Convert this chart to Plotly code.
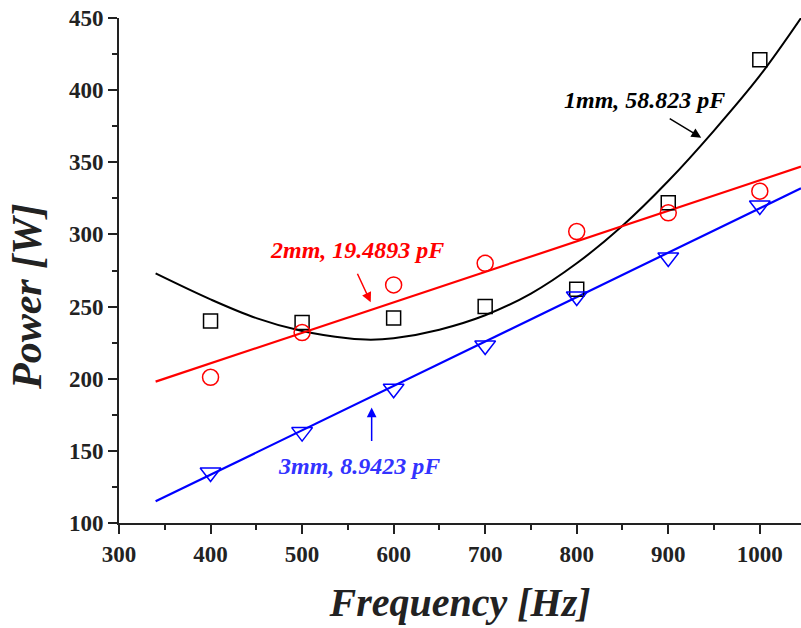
import plotly.graph_objects as go

freq = [400, 500, 600, 700, 800, 900, 1000]
p_1mm = [240, 239, 242, 250, 262, 322, 421]
p_2mm = [201, 232, 265, 280, 302, 315, 330]
p_3mm = [135, 163, 193, 223, 257, 284, 320]

fit1_x = [340, 400, 450, 500, 550, 575, 600, 650, 700, 750, 800, 850, 900, 950, 1000, 1045]
fit1_y = [273, 255, 242, 233, 228, 227, 228, 234, 244, 259, 280, 306, 337, 372, 410, 450]
fit2_x = [340, 1045]
fit2_y = [198, 347]
fit3_x = [340, 1045]
fit3_y = [115, 332]

FONT = "Liberation Serif"

fig = go.Figure()
fig.add_trace(go.Scatter(x=fit1_x, y=fit1_y, mode="lines", line=dict(color="black", width=2, shape="spline", smoothing=1.0), showlegend=False))
fig.add_trace(go.Scatter(x=fit2_x, y=fit2_y, mode="lines", line=dict(color="#ff0000", width=2.2), showlegend=False))
fig.add_trace(go.Scatter(x=fit3_x, y=fit3_y, mode="lines", line=dict(color="#0000ff", width=2.2), showlegend=False))
fig.add_trace(go.Scatter(x=freq, y=p_1mm, mode="markers",
                         marker=dict(symbol="square-open", size=14, color="black", line=dict(width=1.5)), showlegend=False))
fig.add_trace(go.Scatter(x=freq, y=p_2mm, mode="markers",
                         marker=dict(symbol="circle-open", size=16, color="#ff0000", line=dict(width=1.5)), showlegend=False))
fig.add_trace(go.Scatter(x=freq, y=p_3mm, mode="markers",
                         marker=dict(symbol="triangle-down-open", size=18, color="#0000ff", line=dict(width=1.5)), showlegend=False))

def label(x, y, text, color):
    fig.add_annotation(x=x, y=y, text=f"<b><i>{text}</i></b>", showarrow=False,
                       font=dict(family=FONT, size=24, color=color))

def arrow(x, y, ax, ay, color):
    fig.add_annotation(x=x, y=y, ax=ax, ay=ay, text="", showarrow=True,
                       arrowhead=2, arrowsize=1.3, arrowwidth=1.5, arrowcolor=color)

label(874, 393, "1mm, 58.823 pF", "black")
label(560, 289, "2mm, 19.4893 pF", "#ff0000")
label(562, 139.5, "3mm, 8.9423 pF", "#3333ff")
arrow(936, 367, -33, -20, "black")
arrow(575, 253, -14, -30, "#ff0000")
arrow(576, 180, 0, 35, "#0000ff")

# y-axis title as a rotated annotation (placed slightly below the axis centre, as in the reference)
fig.add_annotation(xref="paper", yref="paper", x=0, y=0.4475, xshift=-117, textangle=-90,
                   text="<b><i>Power [W]</i></b>", showarrow=False,
                   font=dict(family=FONT, size=42, color="#222"))

axis_common = dict(showline=True, linewidth=2, linecolor="#222", ticks="outside", ticklen=9,
                   tickwidth=2, tickcolor="#222", showgrid=False, zeroline=False, automargin=False,
                   ticklabeloverflow="allow",
                   tickfont=dict(family=FONT, size=23, color="#222", weight="bold"))

fig.update_xaxes(range=[300, 1045], dtick=100, tick0=300,
                 minor=dict(ticks="outside", ticklen=5, tickwidth=2, tickcolor="#222", dtick=50),
                 title=dict(text="<b><i>Frequency [Hz]</i></b>", font=dict(family=FONT, size=40, color="#222"), standoff=22),
                 **axis_common)
fig.update_yaxes(range=[100, 450], dtick=50, tick0=100,
                 minor=dict(ticks="outside", ticklen=5, tickwidth=2, tickcolor="#222", dtick=25),
                 **axis_common)

fig.update_layout(width=801, height=628, margin=dict(l=119, r=0, t=18, b=105),
                  plot_bgcolor="white", paper_bgcolor="white")

fig.write_html("out.html", config={"displayModeBar": False},
               post_script="document.body.style.margin='0px';document.body.style.overflow='hidden';")
